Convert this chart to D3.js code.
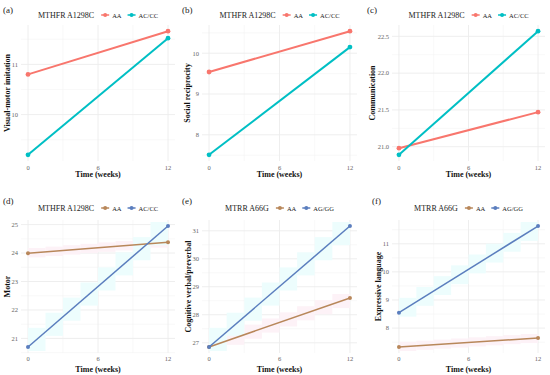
<!DOCTYPE html>
<html><head><meta charset="utf-8">
<script src="https://cdn.jsdelivr.net/npm/d3@7"></script>
<style>body{margin:0;background:#fff}svg{display:block}text{font-family:"Liberation Serif","Times New Roman",serif}</style>
</head><body>
<svg id="c" width="550" height="375"></svg>
<script>
const times = [0, 12];
const xTicks = [0, 6, 12];
const panelLabels = ["(a)", "(b)", "(c)", "(d)", "(e)", "(f)"];
const yTitles = ["Visual-motor imitation", "Social reciprocity", "Communication", "Motor", "Cognitive verbal/preverbal", "Expressive language"];
const legendTitles = ["MTHFR A1298C", "MTHFR A1298C", "MTHFR A1298C", "MTHFR A1298C", "MTRR A66G", "MTRR A66G"];
const groupNames = [["AA", "AC/CC"], ["AA", "AC/CC"], ["AA", "AC/CC"], ["AA", "AC/CC"], ["AA", "AG/GG"], ["AA", "AG/GG"]];
const series1 = [[10.8, 11.66], [9.54, 10.54], [20.98, 21.47], [23.99, 24.38], [26.85, 28.6], [7.33, 7.65]];
const series2 = [[9.2, 11.52], [7.51, 10.15], [20.89, 22.57], [20.70, 24.95], [26.85, 31.17], [8.55, 11.63]];
const yTickVals = [[10, 11], [8, 9, 10], [21.0, 21.5, 22.0, 22.5], [21, 22, 23, 24, 25], [27, 28, 29, 30, 31], [8, 9, 10, 11]];
const yTickFmt = [d3.format("d"), d3.format("d"), d3.format(".1f"), d3.format("d"), d3.format("d"), d3.format("d")];

const svg = d3.select("#c");
const cols = [[21, 175, 0], [202, 357, 180], [392, 545, 365]];
const rows = [[25, 161, 0], [220, 353, 193]];
const topColors = ["#F8766D", "#00BFC4"];
const botColors = ["#B8875A", "#5B7EBE"];

for (let i = 0; i < 6; i++) {
  const col = cols[i % 3], row = rows[Math.floor(i / 3)];
  const bottom = i >= 3;
  const colors = bottom ? botColors : topColors;
  const g = svg.append("g");
  const x = d3.scaleLinear().domain([-0.6, 12.6]).range([col[0], col[1]]);
  const all = series1[i].concat(series2[i]);
  const lo = d3.min(all), hi = d3.max(all), pad = (hi - lo) * 0.05;
  const y = d3.scaleLinear().domain([lo - pad, hi + pad]).range([row[1], row[0]]);

  const yStep = yTickVals[i][1] - yTickVals[i][0];
  const minorY = [];
  for (let v = yTickVals[i][0] - yStep / 2; v <= hi + pad; v += yStep) if (v >= lo - pad) minorY.push(v);
  g.selectAll(null).data(minorY).enter().append("line")
    .attr("x1", col[0]).attr("x2", col[1]).attr("y1", d => y(d)).attr("y2", d => y(d))
    .attr("stroke", "#f4f4f4").attr("stroke-width", 0.6);
  g.selectAll(null).data([3, 9]).enter().append("line")
    .attr("y1", row[0]).attr("y2", row[1]).attr("x1", d => x(d)).attr("x2", d => x(d))
    .attr("stroke", "#f4f4f4").attr("stroke-width", 0.6);
  g.selectAll(null).data(yTickVals[i]).enter().append("line")
    .attr("x1", col[0]).attr("x2", col[1]).attr("y1", d => y(d)).attr("y2", d => y(d))
    .attr("stroke", "#ececec").attr("stroke-width", 0.9);
  g.selectAll(null).data(xTicks).enter().append("line")
    .attr("y1", row[0]).attr("y2", row[1]).attr("x1", d => x(d)).attr("x2", d => x(d))
    .attr("stroke", "#ececec").attr("stroke-width", 0.9);

  if (bottom) {
    [series1[i], series2[i]].forEach((s, k) => {
      const fill = k === 0 ? "#fdf2f7" : "#edfdfd";
      d3.range(0, 12, 1.5).forEach(t0 => {
        const t1 = t0 + 1.5;
        const v0 = s[0] + (s[1] - s[0]) * t0 / 12, v1 = s[0] + (s[1] - s[0]) * t1 / 12;
        const yA = Math.min(y(v0), y(v1)) - 4, yB = Math.max(y(v0), y(v1)) + 4;
        g.append("rect").attr("x", x(t0)).attr("width", x(t1) - x(t0))
          .attr("y", yA).attr("height", yB - yA).attr("fill", fill);
      });
    });
  }

  [series1[i], series2[i]].forEach((s, k) => {
    const pts = times.map((t, j) => [t, s[j]]);
    g.append("path").datum(pts)
      .attr("d", d3.line().x(d => x(d[0])).y(d => y(d[1])))
      .attr("fill", "none").attr("stroke", colors[k]).attr("stroke-width", bottom ? 1.5 : 2);
    g.selectAll(null).data(pts).enter().append("circle")
      .attr("cx", d => x(d[0])).attr("cy", d => y(d[1])).attr("r", bottom ? 2 : 2.4)
      .attr("fill", colors[k]);
  });

  g.selectAll(null).data(xTicks).enter().append("text")
    .attr("x", d => x(d)).attr("y", bottom ? 361 : row[1] + 8.5).attr("text-anchor", "middle")
    .attr("font-size", 6.5).attr("fill", "#666").text(d => d);
  g.selectAll(null).data(yTickVals[i]).enter().append("text")
    .attr("x", col[0] - 3).attr("y", d => y(d) + 2.3).attr("text-anchor", "end")
    .attr("font-size", 6.5).attr("fill", "#666").text(d => yTickFmt[i](d));

  g.append("text").attr("x", (col[0] + col[1]) / 2).attr("y", bottom ? 371.5 : row[1] + 16)
    .attr("text-anchor", "middle").attr("font-size", 8).attr("font-weight", "bold").attr("fill", "#111")
    .text("Time (weeks)");
  const yt = col[2] + 8 + (i === 5 ? 8 : (i === 4 ? 3 : 2));
  g.append("text").attr("transform", `translate(${yt},${(row[0] + row[1]) / 2}) rotate(-90)`)
    .attr("text-anchor", "middle").attr("font-size", 8).attr("font-weight", "bold").attr("fill", "#111")
    .text(yTitles[i]);

  g.append("text").attr("x", col[2] + (i % 3 === 0 ? 3 : 2) + (i === 5 ? 5 : 0)).attr("y", bottom ? 204 : 13)
    .attr("font-size", 9).attr("fill", "#222").text(panelLabels[i]);

  const ly = bottom ? 208 : 15;
  const leg = g.append("g");
  const t = leg.append("text").attr("x", 0).attr("y", ly + 3).attr("font-size", 8).attr("fill", "#222").text(legendTitles[i]);
  let cx = t.node().getComputedTextLength() + 7;
  groupNames[i].forEach((nm, k) => {
    leg.append("line").attr("x1", cx).attr("x2", cx + 8).attr("y1", ly).attr("y2", ly)
      .attr("stroke", colors[k]).attr("stroke-width", 1.5);
    leg.append("circle").attr("cx", cx + 4).attr("cy", ly).attr("r", 2).attr("fill", colors[k]);
    const tt = leg.append("text").attr("x", cx + 11).attr("y", ly + 2.5).attr("font-size", 6.5).attr("fill", "#222").text(nm);
    cx += 11 + tt.node().getComputedTextLength() + 6;
  });
  const w = cx - 6;
  leg.attr("transform", `translate(${(col[0] + col[1]) / 2 - w / 2},0)`);
}
</script>
</body></html>
